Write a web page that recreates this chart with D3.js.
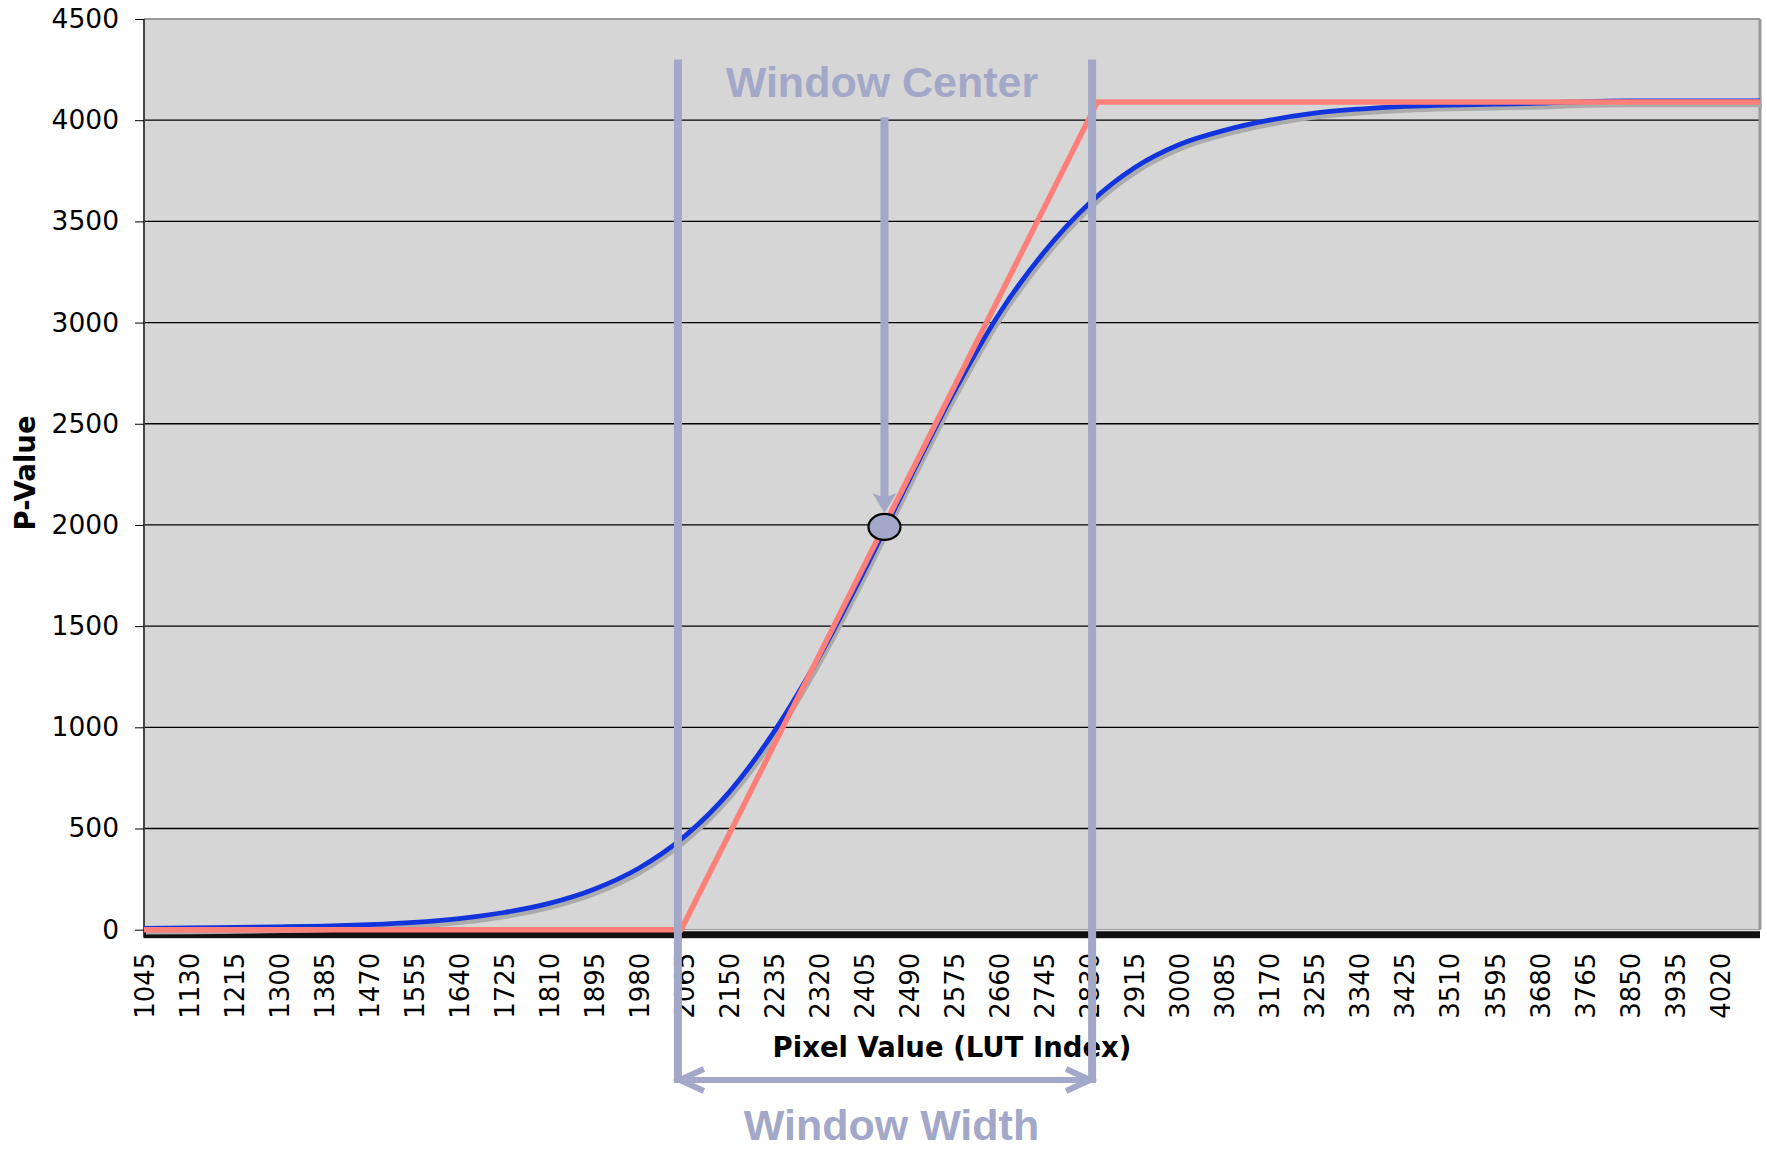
<!DOCTYPE html>
<html><head><meta charset="utf-8">
<script src="https://cdn.jsdelivr.net/npm/d3@7"></script>
<style>body{margin:0;background:#fff} svg{display:block}</style>
</head><body>
<svg id="c" width="1767" height="1150"></svg>
<script>
// ---- data ----
const pixelTicks = [1045,1130,1215,1300,1385,1470,1555,1640,1725,1810,1895,1980,2065,2150,2235,2320,2405,2490,2575,2660,2745,2830,2915,3000,3085,3170,3255,3340,3425,3510,3595,3680,3765,3850,3935,4020];
const pValueTicks = [0,500,1000,1500,2000,2500,3000,3500,4000,4500];
// sigmoid VOI LUT (blue)
const sigmoidPixel = [1045,1130,1215,1300,1385,1470,1555,1640,1725,1810,1895,1980,2065,2150,2235,2320,2405,2490,2575,2660,2745,2830,2915,3000,3085,3170,3255,3340,3425,3510,3595,3680,3765,3850,4096];
const sigmoidP     = [7,9,11,14,18,25,36,55,85,130,200,305,460,680,980,1350,1775,2225,2660,3045,3350,3590,3765,3880,3950,4000,4035,4055,4068,4075,4079,4084,4092,4095,4095];
// linear VOI LUT (red)
const linearPixel = [1045,2059,2845,4096];
const linearP     = [0,0,4090,4090];
// window annotation
const windowLeft = 2053, windowRight = 2835, windowCenter = 2443, windowCenterP = 1990;

// ---- layout ----
const svg = d3.select('#c');
const L = 144, R = 1760, T = 19, B = 929.7;
const x = d3.scaleLinear().domain([1045, 4096]).range([L, R]);
const y = d3.scaleLinear().domain([0, 4500]).range([B, T]);
const annot = '#a3a7c8';

// plot background
svg.append('rect').attr('x', L).attr('y', T).attr('width', R - L).attr('height', B - T).attr('fill', '#d6d6d6');

// gridlines
svg.append('g').selectAll('line').data(pValueTicks.filter(v => v > 0 && v < 4500)).join('line')
  .attr('x1', L).attr('x2', R).attr('y1', d => y(d)).attr('y2', d => y(d))
  .attr('stroke', '#000').attr('stroke-width', 1.3);

// borders
svg.append('line').attr('x1', L).attr('x2', R).attr('y1', T).attr('y2', T).attr('stroke', '#9a9a9a').attr('stroke-width', 2);
svg.append('line').attr('x1', R).attr('x2', R).attr('y1', T).attr('y2', B).attr('stroke', '#9a9a9a').attr('stroke-width', 3);
svg.append('line').attr('x1', L).attr('x2', L).attr('y1', T).attr('y2', B + 8).attr('stroke', '#444').attr('stroke-width', 2);
svg.append('line').attr('x1', L).attr('x2', R).attr('y1', B).attr('y2', B).attr('stroke', '#888').attr('stroke-width', 1);
// dense category tick band
svg.append('rect').attr('x', L).attr('y', B + 1.5).attr('width', R - L).attr('height', 7).attr('fill', '#111');

// y axis
const yAxis = svg.append('g').attr('transform', `translate(${L},0)`)
  .call(d3.axisLeft(y).tickValues(pValueTicks).tickSize(9).tickPadding(16).tickFormat(d3.format('d')));
yAxis.select('.domain').remove();
yAxis.selectAll('line').attr('stroke', '#000');
yAxis.selectAll('text').attr('font-family', 'DejaVu Sans').attr('font-size', 26.5).attr('fill', '#000');

// x axis
const xAxis = svg.append('g').attr('transform', `translate(0,${B})`)
  .call(d3.axisBottom(x).tickValues(pixelTicks).tickSize(0).tickFormat(d3.format('d')));
xAxis.select('.domain').remove();
xAxis.selectAll('text')
  .attr('font-family', 'DejaVu Sans').attr('font-size', 26).attr('fill', '#000')
  .attr('transform', 'rotate(-90)').attr('text-anchor', 'end')
  .attr('x', -23).attr('y', 0).attr('dy', '0.36em');

// axis titles
svg.append('text').attr('x', 952).attr('y', 1057).attr('text-anchor', 'middle')
  .attr('font-family', 'DejaVu Sans').attr('font-weight', 'bold').attr('font-size', 27.5)
  .text('Pixel Value (LUT Index)');
svg.append('text').attr('transform', 'translate(35,473) rotate(-90)').attr('text-anchor', 'middle')
  .attr('font-family', 'DejaVu Sans').attr('font-weight', 'bold').attr('font-size', 27.5)
  .text('P-Value');

// series
const sig = sigmoidPixel.map((p, i) => [p, sigmoidP[i]]);
const lin = linearPixel.map((p, i) => [p, linearP[i]]);
const curve = d3.line().x(d => x(d[0])).y(d => y(d[1])).curve(d3.curveMonotoneX);
const straight = d3.line().x(d => x(d[0])).y(d => y(d[1]));

svg.append('path').datum(sig).attr('d', curve).attr('fill', 'none')
  .attr('stroke', '#ababab').attr('stroke-width', 4.5).attr('transform', 'translate(2,4)');
svg.append('path').datum(sig).attr('d', curve).attr('fill', 'none')
  .attr('stroke', '#1234dc').attr('stroke-width', 4.8);
svg.append('path').datum(lin).attr('d', straight).attr('fill', 'none')
  .attr('stroke', '#fd7f7a').attr('stroke-width', 5.5).attr('stroke-linejoin', 'miter');

// window annotations
const arrowY = 1080;
const topY = y(4300);
[windowLeft, windowRight].forEach(v => {
  svg.append('line').attr('x1', x(v)).attr('x2', x(v)).attr('y1', topY).attr('y2', arrowY + 3)
    .attr('stroke', annot).attr('stroke-width', 8);
});
// width arrow
svg.append('line').attr('x1', x(windowLeft)).attr('x2', x(windowRight)).attr('y1', arrowY).attr('y2', arrowY)
  .attr('stroke', annot).attr('stroke-width', 6);
const xl = x(windowLeft) + 2, xr = x(windowRight) - 2;
svg.append('path').attr('d', `M${xl + 24},${arrowY - 11} L${xl},${arrowY} L${xl + 24},${arrowY + 11}`)
  .attr('fill', 'none').attr('stroke', annot).attr('stroke-width', 6);
svg.append('path').attr('d', `M${xr - 24},${arrowY - 11} L${xr},${arrowY} L${xr - 24},${arrowY + 11}`)
  .attr('fill', 'none').attr('stroke', annot).attr('stroke-width', 6);

// center arrow
const cx = x(windowCenter), cy = y(windowCenterP);
const tip = cy - 14;
svg.append('line').attr('x1', cx).attr('x2', cx).attr('y1', y(4015)).attr('y2', tip - 12)
  .attr('stroke', annot).attr('stroke-width', 8);
svg.append('path').attr('d', `M${cx},${tip} L${cx - 12},${tip - 20} L${cx},${tip - 15} L${cx + 12},${tip - 20} Z`)
  .attr('fill', annot);
svg.append('ellipse').attr('cx', cx).attr('cy', cy).attr('rx', 16).attr('ry', 13)
  .attr('fill', annot).attr('stroke', '#000').attr('stroke-width', 2.2);

// labels
svg.append('text').attr('x', 882).attr('y', 96.5).attr('text-anchor', 'middle')
  .attr('font-family', 'Liberation Sans').attr('font-weight', 'bold').attr('font-size', 43)
  .attr('fill', annot).text('Window Center');
svg.append('text').attr('x', 891.5).attr('y', 1140).attr('text-anchor', 'middle')
  .attr('font-family', 'Liberation Sans').attr('font-weight', 'bold').attr('font-size', 43)
  .attr('fill', annot).text('Window Width');
</script>
</body></html>
